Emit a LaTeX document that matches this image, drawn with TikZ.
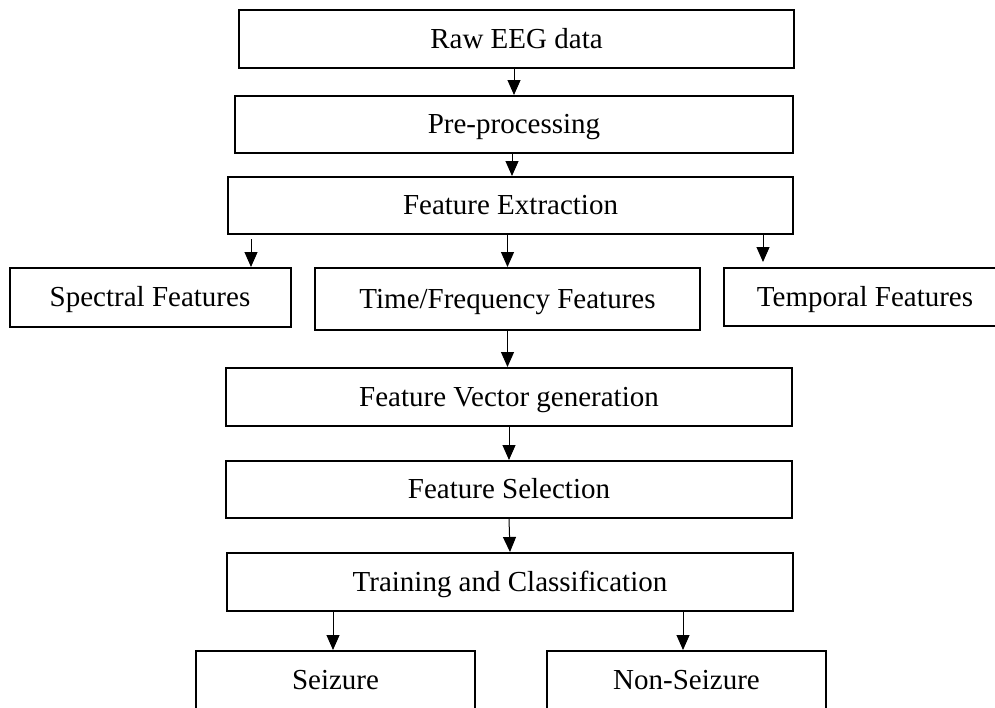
\documentclass[tikz,border=0pt]{standalone}
\usepackage{fontspec}
\setmainfont{Liberation Serif}
\usetikzlibrary{arrows.meta}
\begin{document}
\begin{tikzpicture}[x=1pt,y=-1pt,
  box/.style={draw,line width=2pt,minimum width=#1,inner sep=0pt,
    text height=24pt,text depth=6pt,font=\fontsize{29}{34}\selectfont},
  arr/.style={line width=1pt,-{Triangle[length=15pt,width=13pt]}}]
\path[use as bounding box] (0,0) rectangle (995,707);
\clip (0,0) rectangle (995,707);
\node[box=555pt,minimum height=58pt] (raw) at (516.5,39) {Raw EEG data};
\node[box=558pt,minimum height=57pt] (pre) at (514,124.5) {Pre-processing};
\node[box=565pt,minimum height=57pt] (fe) at (510.5,205.5) {Feature Extraction};
\node[box=281pt,minimum height=59pt] (spec) at (150,297.5) {Spectral Features};
\node[box=385pt,minimum height=62pt] (tf) at (507.5,299) {Time/Frequency Features};
\node[box=282pt,minimum height=58pt] (temp) at (865,297) {Temporal Features};
\node[box=566pt,minimum height=58pt] (fv) at (509,397) {Feature Vector generation};
\node[box=566pt,minimum height=57pt] (fs) at (509,489.5) {Feature Selection};
\node[box=566pt,minimum height=58pt] (tc) at (510,582) {Training and Classification};
\node[box=279pt,minimum height=58pt] (sz) at (335.5,680) {Seizure};
\node[box=279pt,minimum height=58pt] (nsz) at (686.5,680) {Non-Seizure};
\draw[arr] ([xshift=-2.5pt]raw.south) -- ([xshift=-2.5pt]raw.south |- pre.north);
\draw[arr] ([xshift=-2pt]pre.south) -- ([xshift=-2pt]pre.south |- fe.north);
\draw[arr] ([xshift=24pt,yshift=-4pt]fe.south west) -- ([xshift=24pt]fe.south west |- spec.north);
\draw[arr] (fe.south -| tf.north) -- (tf.north);
\draw[arr] ([xshift=-31pt]fe.south east) -- ([xshift=-31pt,yshift=5pt]fe.south east |- temp.north);
\draw[arr] (tf.south) -- (tf.south |- fv.north);
\draw[arr] (fv.south) -- (fs.north);
\draw[arr] (fs.south) -- (tc.north);
\draw[arr] (tc.south -| sz.north) ++(-2.5pt,0) -- ([xshift=-2.5pt]sz.north);
\draw[arr] (tc.south -| nsz.north) ++(-3.5pt,0) -- ([xshift=-3.5pt]nsz.north);
\end{tikzpicture}
\end{document}
